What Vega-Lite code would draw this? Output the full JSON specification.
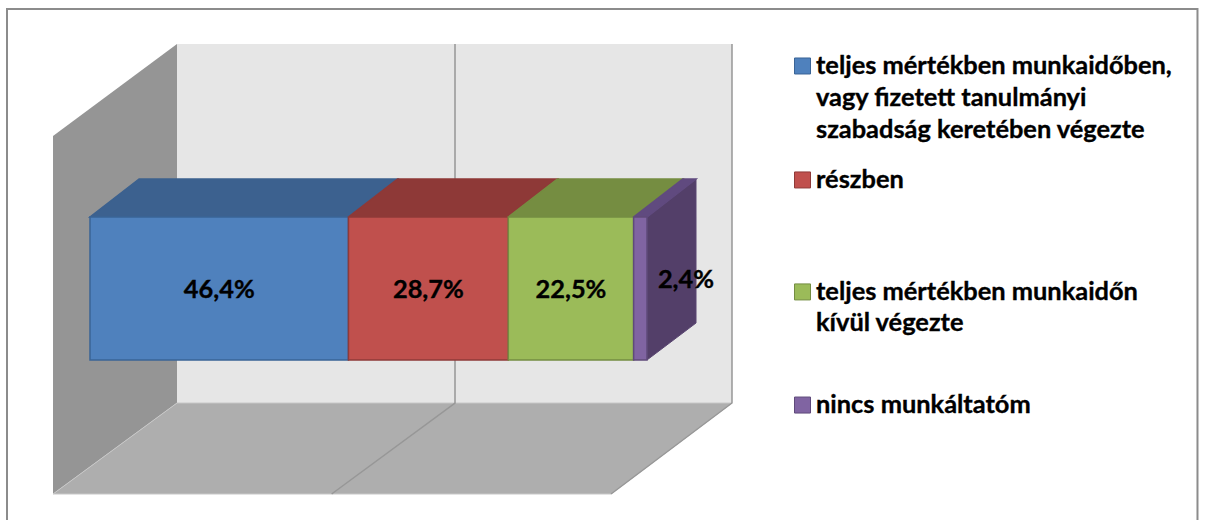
{
"$schema":"https://vega.github.io/schema/vega-lite/v6.json",
"width":1205,"height":520,"padding":0,
"autosize":{"type":"none"},
"background":"#ffffff",
"view":{"stroke":null},
"datasets":{
"bars":[
{"series":"teljes mértékben munkaidőben, vagy fizetett tanulmányi szabadság keretében végezte","start":0,"end":46.4,"share":46.4,"label":"46,4%","lx":23.2,"ly":49},
{"series":"részben","start":46.4,"end":75.1,"share":28.7,"label":"28,7%","lx":60.75,"ly":49},
{"series":"teljes mértékben munkaidőn kívül végezte","start":75.1,"end":97.6,"share":22.5,"label":"22,5%","lx":86.35,"ly":49},
{"series":"nincs munkáltatóm","start":97.6,"end":100,"share":2.4,"label":"2,4%","lx":107,"ly":56}
],
"top":[
{"series":"a","level":100,"from":0,"to":46.4},{"series":"a","level":126.57,"from":8.8,"to":55.2},
{"series":"b","level":100,"from":46.4,"to":75.1},{"series":"b","level":126.57,"from":55.2,"to":83.9},
{"series":"c","level":100,"from":75.1,"to":97.6},{"series":"c","level":126.57,"from":83.9,"to":106.4},
{"series":"d","level":100,"from":97.6,"to":100},{"series":"d","level":126.57,"from":106.4,"to":108.8}
],
"side":[{"at":100,"low":0,"high":100},{"at":108.8,"low":25.87,"high":126.57}],
"leftwall":[{"at":-6.64,"low":-93.71,"high":156.64},{"at":15.62,"low":-30.07,"high":220.98}],
"backwall":[{"at":15.62,"low":-30.07,"high":220.98},{"at":115.26,"low":-30.07,"high":220.98}],
"floor":[{"level":-93.71,"from":-6.64,"to":93.54},{"level":-30.07,"from":15.62,"to":115.26}],
"grid":[
{"id":"g50","seq":1,"at":65.53,"level":220.98},{"id":"g50","seq":2,"at":65.53,"level":-30.07},{"id":"g50","seq":3,"at":43.38,"level":-93.71},
{"id":"g100","seq":1,"at":115.26,"level":220.98},{"id":"g100","seq":2,"at":115.26,"level":-30.07},{"id":"g100","seq":3,"at":93.54,"level":-93.71}
],
"frame":[{"seq":1,"at":-14.9,"level":-111.89},{"seq":2,"at":-14.9,"level":245.45},{"seq":3,"at":198.83,"level":245.45},{"seq":4,"at":198.83,"level":-111.89}],
"swatch":[
{"series":"a","at":127.92,"level":205.6},{"series":"b","at":127.92,"level":125.9},{"series":"c","at":127.92,"level":47.6},{"series":"d","at":127.92,"level":-31.5}
],
"legend":[
{"text":"teljes mértékben munkaidőben,","at":130.34,"level":205.6},
{"text":"vagy fizetett tanulmányi","at":130.34,"level":183.2},
{"text":"szabadság keretében végezte","at":130.34,"level":160.8},
{"text":"részben","at":130.34,"level":125.9},
{"text":"teljes mértékben munkaidőn","at":130.34,"level":47.6},
{"text":"kívül végezte","at":130.34,"level":25.9},
{"text":"nincs munkáltatóm","at":130.34,"level":-31.5}
]
},
"resolve":{"scale":{"fill":"independent","stroke":"independent"}},
"layer":[
{"data":{"name":"frame"},"mark":{"type":"line","color":"#8c8c8c","strokeWidth":2},
 "encoding":{
  "x":{"field":"at","type":"quantitative","axis":null,"scale":{"domain":[-16.158,200.18],"nice":false,"zero":false}},
  "y":{"field":"level","type":"quantitative","axis":null,"scale":{"domain":[-111.89,251.75],"nice":false,"zero":false}},
  "order":{"field":"seq"}}},
{"data":{"name":"backwall"},"mark":{"type":"area","color":"#e6e6e6"},
 "encoding":{"x":{"field":"at","type":"quantitative"},"y":{"field":"low","type":"quantitative"},"y2":{"field":"high"}}},
{"data":{"name":"leftwall"},"mark":{"type":"area","color":"#959595"},
 "encoding":{"x":{"field":"at","type":"quantitative"},"y":{"field":"low","type":"quantitative"},"y2":{"field":"high"}}},
{"data":{"name":"floor"},"mark":{"type":"area","orient":"horizontal","color":"#aeaeae","stroke":"#c8c8c8","strokeWidth":1},
 "encoding":{"y":{"field":"level","type":"quantitative"},"x":{"field":"from","type":"quantitative"},"x2":{"field":"to"}}},
{"data":{"name":"grid"},"mark":{"type":"line","color":"#979797","strokeWidth":1.5},
 "encoding":{"x":{"field":"at","type":"quantitative"},"y":{"field":"level","type":"quantitative"},"detail":{"field":"id"},"order":{"field":"seq"}}},
{"data":{"name":"side"},"mark":{"type":"area","color":"#533f69","stroke":"#5a4672","strokeWidth":1},
 "encoding":{"x":{"field":"at","type":"quantitative"},"y":{"field":"low","type":"quantitative"},"y2":{"field":"high"}}},
{"data":{"name":"top"},"mark":{"type":"area","orient":"horizontal","strokeWidth":1.5},
 "encoding":{"y":{"field":"level","type":"quantitative"},"x":{"field":"from","type":"quantitative"},"x2":{"field":"to"},
  "fill":{"field":"series","type":"nominal","legend":null,"scale":{"domain":["a","b","c","d"],"range":["#3c618f","#8e3937","#758d41","#604a7f"]}},
  "stroke":{"field":"series","type":"nominal","legend":null,"scale":{"domain":["a","b","c","d"],"range":["#3c618f","#8e3937","#758d41","#604a7f"]}}}},
{"data":{"name":"bars"},"mark":{"type":"rect","strokeWidth":1.5},
 "encoding":{"x":{"field":"start","type":"quantitative"},"x2":{"field":"end"},"y":{"datum":0,"type":"quantitative"},"y2":{"datum":100},
  "fill":{"field":"series","type":"nominal","sort":null,"legend":null,"scale":{"range":["#4f81bd","#c0504d","#9bbb59","#8064a2"]}},
  "stroke":{"field":"series","type":"nominal","sort":null,"legend":null,"scale":{"range":["#3a6496","#8f3a38","#748d42","#5f4a7a"]}}}},
{"data":{"name":"bars"},"mark":{"type":"text","font":"Lato","fontWeight":"bold","fontSize":25.4,"color":"#000000","stroke":"#000000","strokeWidth":0.35,"align":"center","baseline":"middle"},
 "encoding":{"x":{"field":"lx","type":"quantitative"},"y":{"field":"ly","type":"quantitative"},"text":{"field":"label"}}},
{"data":{"name":"swatch"},"mark":{"type":"point","shape":"square","filled":true,"size":256,"opacity":1,"strokeWidth":1},
 "encoding":{"x":{"field":"at","type":"quantitative"},"y":{"field":"level","type":"quantitative"},
  "fill":{"field":"series","type":"nominal","legend":null,"scale":{"domain":["a","b","c","d"],"range":["#4f81bd","#c0504d","#9bbb59","#8064a2"]}},
  "stroke":{"field":"series","type":"nominal","legend":null,"scale":{"domain":["a","b","c","d"],"range":["#3a6496","#8f3a38","#748d42","#5f4a7a"]}}}},
{"data":{"name":"legend"},"mark":{"type":"text","font":"Lato","fontWeight":"bold","fontSize":25.4,"color":"#000000","stroke":"#000000","strokeWidth":0.35,"align":"left","baseline":"middle"},
 "encoding":{"x":{"field":"at","type":"quantitative"},"y":{"field":"level","type":"quantitative"},"text":{"field":"text"}}}
]
}
